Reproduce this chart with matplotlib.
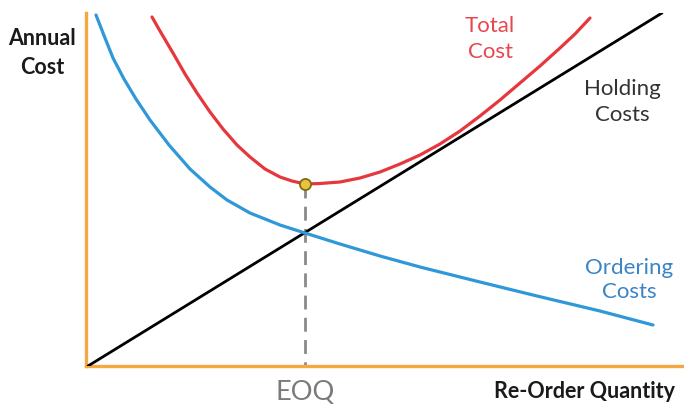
import matplotlib
matplotlib.use("Agg")
import matplotlib.pyplot as plt

# Values (quantity and cost in arbitrary units)
holding_q = [2, 576]
holding_c = [0, 353]

ordering_q = [10, 19, 27, 38, 50, 64, 83, 104, 124, 141, 164, 194, 219, 254, 294, 334, 394, 451, 514, 567]
ordering_c = [351, 328, 308, 287, 267, 246, 221, 197, 179, 166, 153, 141, 133, 122, 110, 99, 84, 70, 55, 41]

total_q = [66, 74, 87, 99, 111, 124, 137, 151, 164, 179, 194, 206, 219, 234, 254, 274, 294, 314,
           334, 354, 374, 394, 414, 434, 454, 474, 489, 504]
total_c = [349, 335, 313, 292, 273, 254, 237, 221, 209, 197, 189, 185, 182, 182.5, 184, 188, 194, 202,
           211, 222, 235, 250, 266, 283, 300, 318, 332, 348]

eoq_q = 219
eoq_c = 182

W, H = 684, 417
fig = plt.figure(figsize=(W / 100, H / 100), dpi=100)
fig.patch.set_facecolor("white")
ax = fig.add_axes([86 / W, (H - 366) / H, (W - 86) / W, (366 - 13) / H])
ax.set_xlim(0, 598)
ax.set_ylim(0, 353)
ax.set_xticks([])
ax.set_yticks([])
for s in ["top", "right"]:
    ax.spines[s].set_visible(False)
orange = "#f4a742"
for s in ["left", "bottom"]:
    ax.spines[s].set_color(orange)
    ax.spines[s].set_linewidth(2.4)

common = dict(solid_capstyle="round", solid_joinstyle="round", zorder=3)
ax.plot(holding_q, holding_c, color="black", lw=2.0, **common)
ax.plot(ordering_q, ordering_c, color="#2e98d8", lw=2.3, **common)
ax.plot(total_q, total_c, color="#e6383c", lw=2.3, **common)
ax.plot([eoq_q, eoq_q], [eoq_c, 0], color="#8a8a8a", lw=2.0, dashes=(5, 3), zorder=2)
ax.plot([eoq_q], [eoq_c], marker="o", ms=8, mfc="#e8c43a", mec="#7d6a1e", mew=1.3, zorder=5)

font = "Lato"
def ftext(x, y, s, **kw):
    fig.text(x / W, 1 - y / H, s, family=font, ha="center", va="center", **kw)

ftext(42, 53, "Annual\nCost", fontsize=15.5, fontweight="bold", color="#1a1a1a", linespacing=1.45)
ftext(584, 392, "Re-Order Quantity", fontsize=15.5, fontweight="bold", color="#1a1a1a")
ftext(305, 393, "EOQ", fontsize=19.5, color="#7a7a7a")
ftext(490, 39, "Total\nCost", fontsize=16, color="#e8474f", linespacing=1.35)
ftext(622, 102, "Holding\nCosts", fontsize=16, color="#333333", linespacing=1.35)
ftext(629, 280, "Ordering\nCosts", fontsize=16, color="#3b84c6", linespacing=1.3)

fig.savefig("out.png", dpi=100)
